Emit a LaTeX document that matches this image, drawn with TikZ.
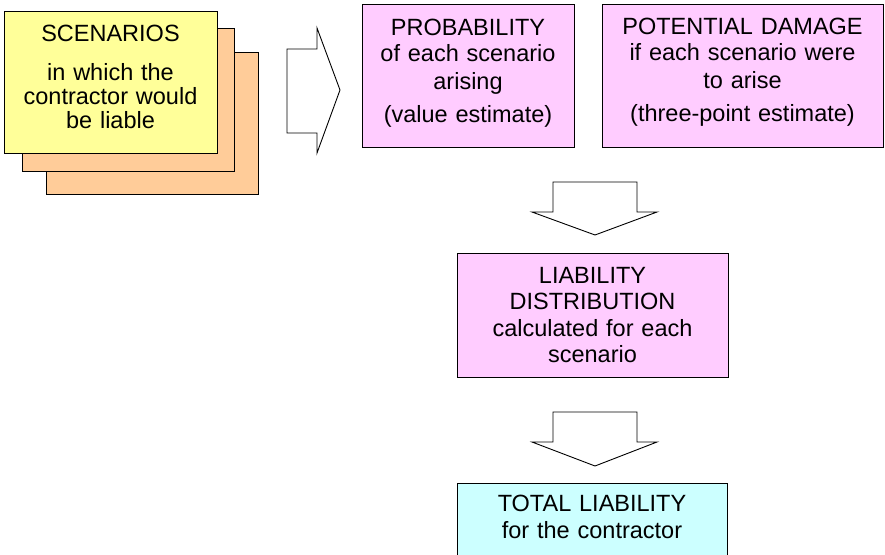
\documentclass[tikz,border=0pt]{standalone}
\usepackage{fontspec}
\setmainfont{Liberation Sans}
\definecolor{yelc}{HTML}{FFFF99}
\definecolor{orac}{HTML}{FFCC99}
\definecolor{pinkc}{HTML}{FFCCFF}
\definecolor{cyanc}{HTML}{CCFFFF}
\begin{document}
\begin{tikzpicture}[x=1pt,y=-1pt,
  box/.style={draw=black, line width=1pt, inner sep=0pt, anchor=north west},
  txt/.style={align=center, inner sep=0pt, anchor=base, text width=280pt},
  blockarrow/.style={draw=black, fill=white, line width=0.9pt, line join=miter}]
\useasboundingbox (0,0) rectangle (885,554);
\clip (0,0) rectangle (885,554);
\fill[white] (0,0) rectangle (885,554);
% scenario stack
\node[box, fill=orac, minimum width=212pt, minimum height=142pt] (sc3) at (46,52) {};
\node[box, fill=orac, minimum width=212pt, minimum height=143pt] (sc2) at (22,28) {};
\node[box, fill=yelc, minimum width=213pt, minimum height=142pt] (sc1) at (4,11) {};
\node[txt, font=\fontsize{23.5}{24}\selectfont] (sct) at (110.5,41)
  {SCENARIOS\\[15pt]in which the\\contractor would\\be liable};
% right block arrow
\draw[blockarrow] (287,49) -- (317,49) -- (317,28) -- (340,90) -- (317,153)
  -- (317,133) -- (287,133) -- cycle;
% probability and damage
\node[box, fill=pinkc, minimum width=212pt, minimum height=143pt] (prob) at (362,4) {};
\node[txt, font=\fontsize{23.5}{26}\selectfont] (probt) at (468,35)
  {PROBABILITY\\of each scenario\\[2pt]arising\\[7pt](value estimate)};
\node[box, fill=pinkc, minimum width=281pt, minimum height=143pt] (dam) at (602,4) {};
\node[txt, font=\fontsize{23.5}{26}\selectfont] (damt) at (742.5,34.5)
  {POTENTIAL DAMAGE\\if each scenario were\\[2pt]to arise\\[7pt](three-point estimate)};
% down arrow 1
\draw[blockarrow] (553,182) -- (637,182) -- (637,212) -- (657,212) -- (595,235)
  -- (532,212) -- (553,212) -- cycle;
% liability distribution
\node[box, fill=pinkc, minimum width=271pt, minimum height=124pt] (dist) at (457,253) {};
\node[txt, font=\fontsize{23.5}{26.5}\selectfont] (distt) at (592.5,283)
  {LIABILITY\\DISTRIBUTION\\calculated for each\\scenario};
% down arrow 2
\draw[blockarrow] (553,412) -- (637,412) -- (637,442) -- (657,442) -- (595,466)
  -- (532,442) -- (553,442) -- cycle;
% total liability
\node[box, fill=cyanc, minimum width=270pt, minimum height=80pt] (tot) at (457,483) {};
\node[txt, font=\fontsize{23.5}{27}\selectfont] (tott) at (592,511)
  {TOTAL LIABILITY\\for the contractor};
\end{tikzpicture}
\end{document}
